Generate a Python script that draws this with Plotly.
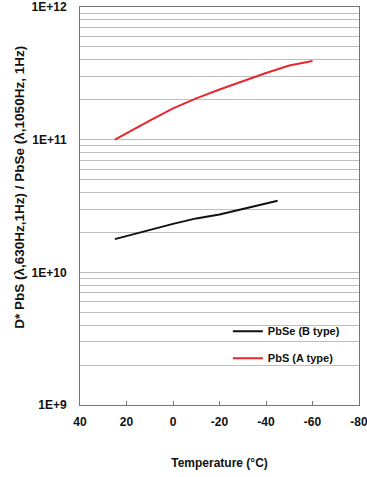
import plotly.graph_objects as go

# Data
temp_pbs = [25, 20, 10, 0, -10, -20, -30, -40, -50, -60]
d_pbs = [1.0e11, 1.12e11, 1.39e11, 1.72e11, 2.05e11, 2.39e11, 2.77e11, 3.18e11, 3.62e11, 3.91e11]

temp_pbse = [25, 10, 0, -10, -20, -30, -45]
d_pbse = [1.78e10, 2.09e10, 2.32e10, 2.55e10, 2.73e10, 3.0e10, 3.46e10]

x_ticks = [40, 20, 0, -20, -40, -60, -80]
y_major = [1e9, 1e10, 1e11, 1e12]
y_major_labels = ["1E+9", "1E+10", "1E+11", "1E+12"]

y_tickvals = []
y_ticktext = []
for i, dec in enumerate(y_major):
    y_tickvals.append(dec)
    y_ticktext.append(y_major_labels[i])
    if i < len(y_major) - 1:
        for m in range(2, 10):
            y_tickvals.append(dec * m)
            y_ticktext.append("")

FONT = "Liberation Sans, Arial, sans-serif"

fig = go.Figure()
fig.add_trace(go.Scatter(x=temp_pbse, y=d_pbse, mode="lines", name="<b>PbSe (B type)</b>",
                         line=dict(color="#111111", width=2), legendgroup="a"))
fig.add_trace(go.Scatter(x=temp_pbs, y=d_pbs, mode="lines", name="<b>PbS (A type)</b>",
                         line=dict(color="#e8262c", width=2), legendgroup="b"))

fig.update_layout(
    width=367, height=477,
    margin=dict(l=80, r=8, t=7, b=72, autoexpand=False),
    paper_bgcolor="white", plot_bgcolor="white",
    font=dict(family=FONT, size=12, color="#111111"),
    showlegend=True,
    legend=dict(x=0.53, y=0.222, xanchor="left", yanchor="top",
                bgcolor="rgba(0,0,0,0)", traceorder="grouped", tracegroupgap=8,
                itemwidth=30, font=dict(size=11, family=FONT)),
    xaxis=dict(range=[40, -80], tickvals=x_ticks, ticktext=[f"<b>{v}</b>" for v in x_ticks],
               showgrid=False, zeroline=False, showline=True, linecolor="#777777", linewidth=1,
               mirror=True, ticks="inside", ticklen=4, tickcolor="#777777", automargin=False,
               ticklabeloverflow="allow", ticklabelstandoff=6,
               tickfont=dict(size=12, family=FONT),
               title=dict(text="<b>Temperature (°C)</b>", font=dict(size=12, family=FONT), standoff=30)),
    yaxis=dict(type="log", range=[9, 12], tickvals=y_tickvals,
               ticktext=[f"<b>{t}</b>" if t else "" for t in y_ticktext],
               showgrid=True, gridcolor="#bdbdbd", gridwidth=1, zeroline=False,
               showline=True, linecolor="#777777", linewidth=1, mirror=True, automargin=False,
               ticks="", ticklabelstandoff=10, tickfont=dict(size=12, family=FONT)),
    annotations=[dict(text="<b>D* PbS (λ,630Hz,1Hz) / PbSe (λ,1050Hz, 1Hz)</b>",
                      xref="paper", yref="paper", x=-0.215, y=0.546, textangle=-90,
                      showarrow=False, xanchor="center", yanchor="middle",
                      font=dict(size=13.5, family=FONT))],
)

fig.write_html("out.html")
